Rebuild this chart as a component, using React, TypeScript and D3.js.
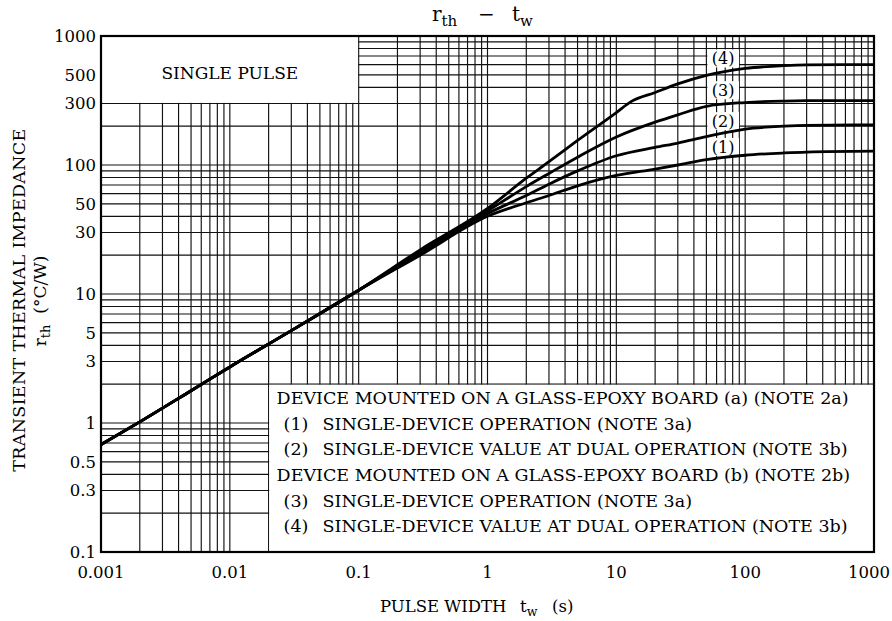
import React from 'react';
import * as d3 from 'd3';

// pulse width (s) sample points
const twPoints = [0.001, 0.002, 0.005, 0.01, 0.03, 0.1, 0.3, 1, 2, 3, 5, 10, 20, 30, 50, 100, 200, 300, 1000];
const twPoints4 = [0.001, 0.002, 0.005, 0.01, 0.03, 0.1, 0.3, 1, 2, 3, 5, 10, 13, 20, 30, 50, 100, 200, 300, 1000];

// rth (degC/W) for each curve
const rth1 = [0.68, 1.02, 1.78, 2.72, 5.2, 10.7, 20, 40, 51, 58, 69, 83, 93, 100, 110, 119, 124, 126, 128];
const rth2 = [0.68, 1.02, 1.78, 2.72, 5.2, 10.7, 20.7, 42, 58, 71, 90, 118, 137, 148, 166, 190, 200, 203, 205];
const rth3 = [0.68, 1.02, 1.78, 2.72, 5.2, 10.7, 21.3, 44, 68, 86, 115, 165, 215, 245, 285, 305, 313, 315, 316];
const rth4 = [0.68, 1.02, 1.78, 2.72, 5.2, 10.7, 22, 46, 79, 106, 155, 255, 310, 365, 425, 495, 560, 590, 598, 600];

const curveNames = ['(1)', '(2)', '(3)', '(4)'];
// rth level at which each curve label sits
const curveLabelAt = [138, 219, 380, 670];

const xTickLabels = [0.001, 0.01, 0.1, 1, 10, 100, 1000];
const yTickLabels = [1000, 500, 300, 100, 50, 30, 10, 5, 3, 1, 0.5, 0.3, 0.1];

const legendLines = [
  { num: '', text: 'DEVICE MOUNTED ON A GLASS-EPOXY BOARD (a) (NOTE 2a)' },
  { num: '(1)', text: 'SINGLE-DEVICE OPERATION (NOTE 3a)' },
  { num: '(2)', text: 'SINGLE-DEVICE VALUE AT DUAL OPERATION (NOTE 3b)' },
  { num: '', text: 'DEVICE MOUNTED ON A GLASS-EPOXY BOARD (b) (NOTE 2b)' },
  { num: '(3)', text: 'SINGLE-DEVICE OPERATION (NOTE 3a)' },
  { num: '(4)', text: 'SINGLE-DEVICE VALUE AT DUAL OPERATION (NOTE 3b)' },
];

const W = 892;
const H = 621;
const margin = { top: 36, right: 18, bottom: 69, left: 101 };
const FONT = '"DejaVu Serif", "Liberation Serif", serif';

export default function App() {
  const x = d3.scaleLog().domain([0.001, 1000]).range([margin.left, W - margin.right]);
  const y = d3.scaleLog().domain([0.1, 1000]).range([H - margin.bottom, margin.top]);

  // minor + major log grid, 1..9 per decade
  const xGrid: number[] = [];
  for (let e = -3; e < 3; e++) for (let k = 1; k < 10; k++) xGrid.push(k * Math.pow(10, e));
  const yGrid: number[] = [];
  for (let e = -1; e < 3; e++) for (let k = 1; k < 10; k++) yGrid.push(k * Math.pow(10, e));

  const line = d3
    .line<[number, number]>()
    .x((d) => x(d[0]))
    .y((d) => y(d[1]))
    .curve(d3.curveMonotoneX);

  const series = [
    twPoints.map((t, i) => [t, rth1[i]] as [number, number]),
    twPoints.map((t, i) => [t, rth2[i]] as [number, number]),
    twPoints.map((t, i) => [t, rth3[i]] as [number, number]),
    twPoints4.map((t, i) => [t, rth4[i]] as [number, number]),
  ];

  const x0 = x(0.001);
  const x1 = x(1000);
  const y0 = y(0.1);
  const y1 = y(1000);

  // white boxes
  const spBox = { x: x(0.001), y: y(1000), w: x(0.1) - x(0.001), h: y(300) - y(1000) };
  const lgBox = { x: x(0.02), y: y(2), w: x(1000) - x(0.02), h: y(0.1) - y(2) };

  return (
    <svg width={W} height={H} style={{ position: 'absolute', left: 0, top: 0, background: '#fff' }} fontFamily={FONT}>
      <rect x={0} y={0} width={W} height={H} fill="#fff" />
      {/* title */}
      <text y={21} fontSize={20}>
        <tspan x={432}>r</tspan>
        <tspan fontSize={15} dy={5}>th</tspan>
        <tspan x={478} dy={-5}>{'\u2212'}</tspan>
        <tspan x={512}>t</tspan>
        <tspan fontSize={15} dy={5}>w</tspan>
      </text>

      {/* grid */}
      <g stroke="#111" strokeWidth={1.15}>
        {xGrid.map((v) => (
          <line key={'gx' + v} x1={x(v)} x2={x(v)} y1={y1} y2={y0} />
        ))}
        {yGrid.map((v) => (
          <line key={'gy' + v} x1={x0} x2={x1} y1={y(v)} y2={y(v)} />
        ))}
      </g>

      <rect x={spBox.x} y={spBox.y} width={spBox.w - 0.6} height={spBox.h - 0.6} fill="#fff" />
      <text x={spBox.x + spBox.w / 2} y={spBox.y + 43} textAnchor="middle" fontSize={17}>
        SINGLE{'\u00a0'}PULSE
      </text>

      <rect x={lgBox.x + 0.6} y={lgBox.y + 0.6} width={lgBox.w} height={lgBox.h} fill="#fff" />
      {legendLines.map((l, i) => {
        const by = lgBox.y + 20 + i * 25.6;
        return (
          <g key={'lg' + i} fontSize={17.5}>
            {l.num === '' ? (
              <text x={lgBox.x + 8} y={by}>{l.text}</text>
            ) : (
              <>
                <text x={lgBox.x + 15} y={by}>{l.num}</text>
                <text x={lgBox.x + 54} y={by}>{l.text}</text>
              </>
            )}
          </g>
        );
      })}

      {/* curve labels */}
      {curveNames.map((n, i) => {
        const cy = y(curveLabelAt[i]);
        return (
          <g key={'cl' + i}>
            <rect x={x(50) + 1} y={cy - 9} width={x(88) - x(50)} height={18} fill="#fff" />
            <text x={(x(50) + x(88)) / 2 + 1} y={cy + 6} textAnchor="middle" fontSize={16}>
              {n}
            </text>
          </g>
        );
      })}

      {/* curves */}
      {series.map((s, i) => (
        <path key={'c' + i} d={line(s) || ''} fill="none" stroke="#000" strokeWidth={2.8} strokeLinejoin="round" />
      ))}

      {/* frame */}
      <rect x={x0} y={y1} width={x1 - x0} height={y0 - y1} fill="none" stroke="#000" strokeWidth={2.2} />

      {/* tick labels */}
      {xTickLabels.map((v, i) => {
        const last = i === xTickLabels.length - 1;
        return (
          <text
            key={'xt' + v}
            x={last ? W - 2 : x(v)}
            y={y0 + 26}
            textAnchor={last ? 'end' : 'middle'}
            fontSize={16.5}
          >
            {String(v)}
          </text>
        );
      })}
      {yTickLabels.map((v) => (
        <text key={'yt' + v} x={x0 - 5} y={y(v) + 6} textAnchor="end" fontSize={16.5}>
          {String(v)}
        </text>
      ))}

      {/* axis titles */}
      <text y={612} fontSize={16.5}>
        <tspan x={380}>PULSE WIDTH</tspan>
        <tspan x={520}>t</tspan>
        <tspan fontSize={12.5} dy={4}>w</tspan>
        <tspan x={552} dy={-4}>(s)</tspan>
      </text>
      <text transform="translate(25,300) rotate(-90)" textAnchor="middle" fontSize={17.5} letterSpacing={0.3}>
        TRANSIENT THERMAL IMPEDANCE
      </text>
      <text transform="translate(46,301) rotate(-90)" textAnchor="middle" fontSize={17}>
        r<tspan fontSize={13} dy={4}>th</tspan>
        <tspan dy={-4}>{'\u00a0\u00a0(\u00b0C/W)'}</tspan>
      </text>
    </svg>
  );
}
